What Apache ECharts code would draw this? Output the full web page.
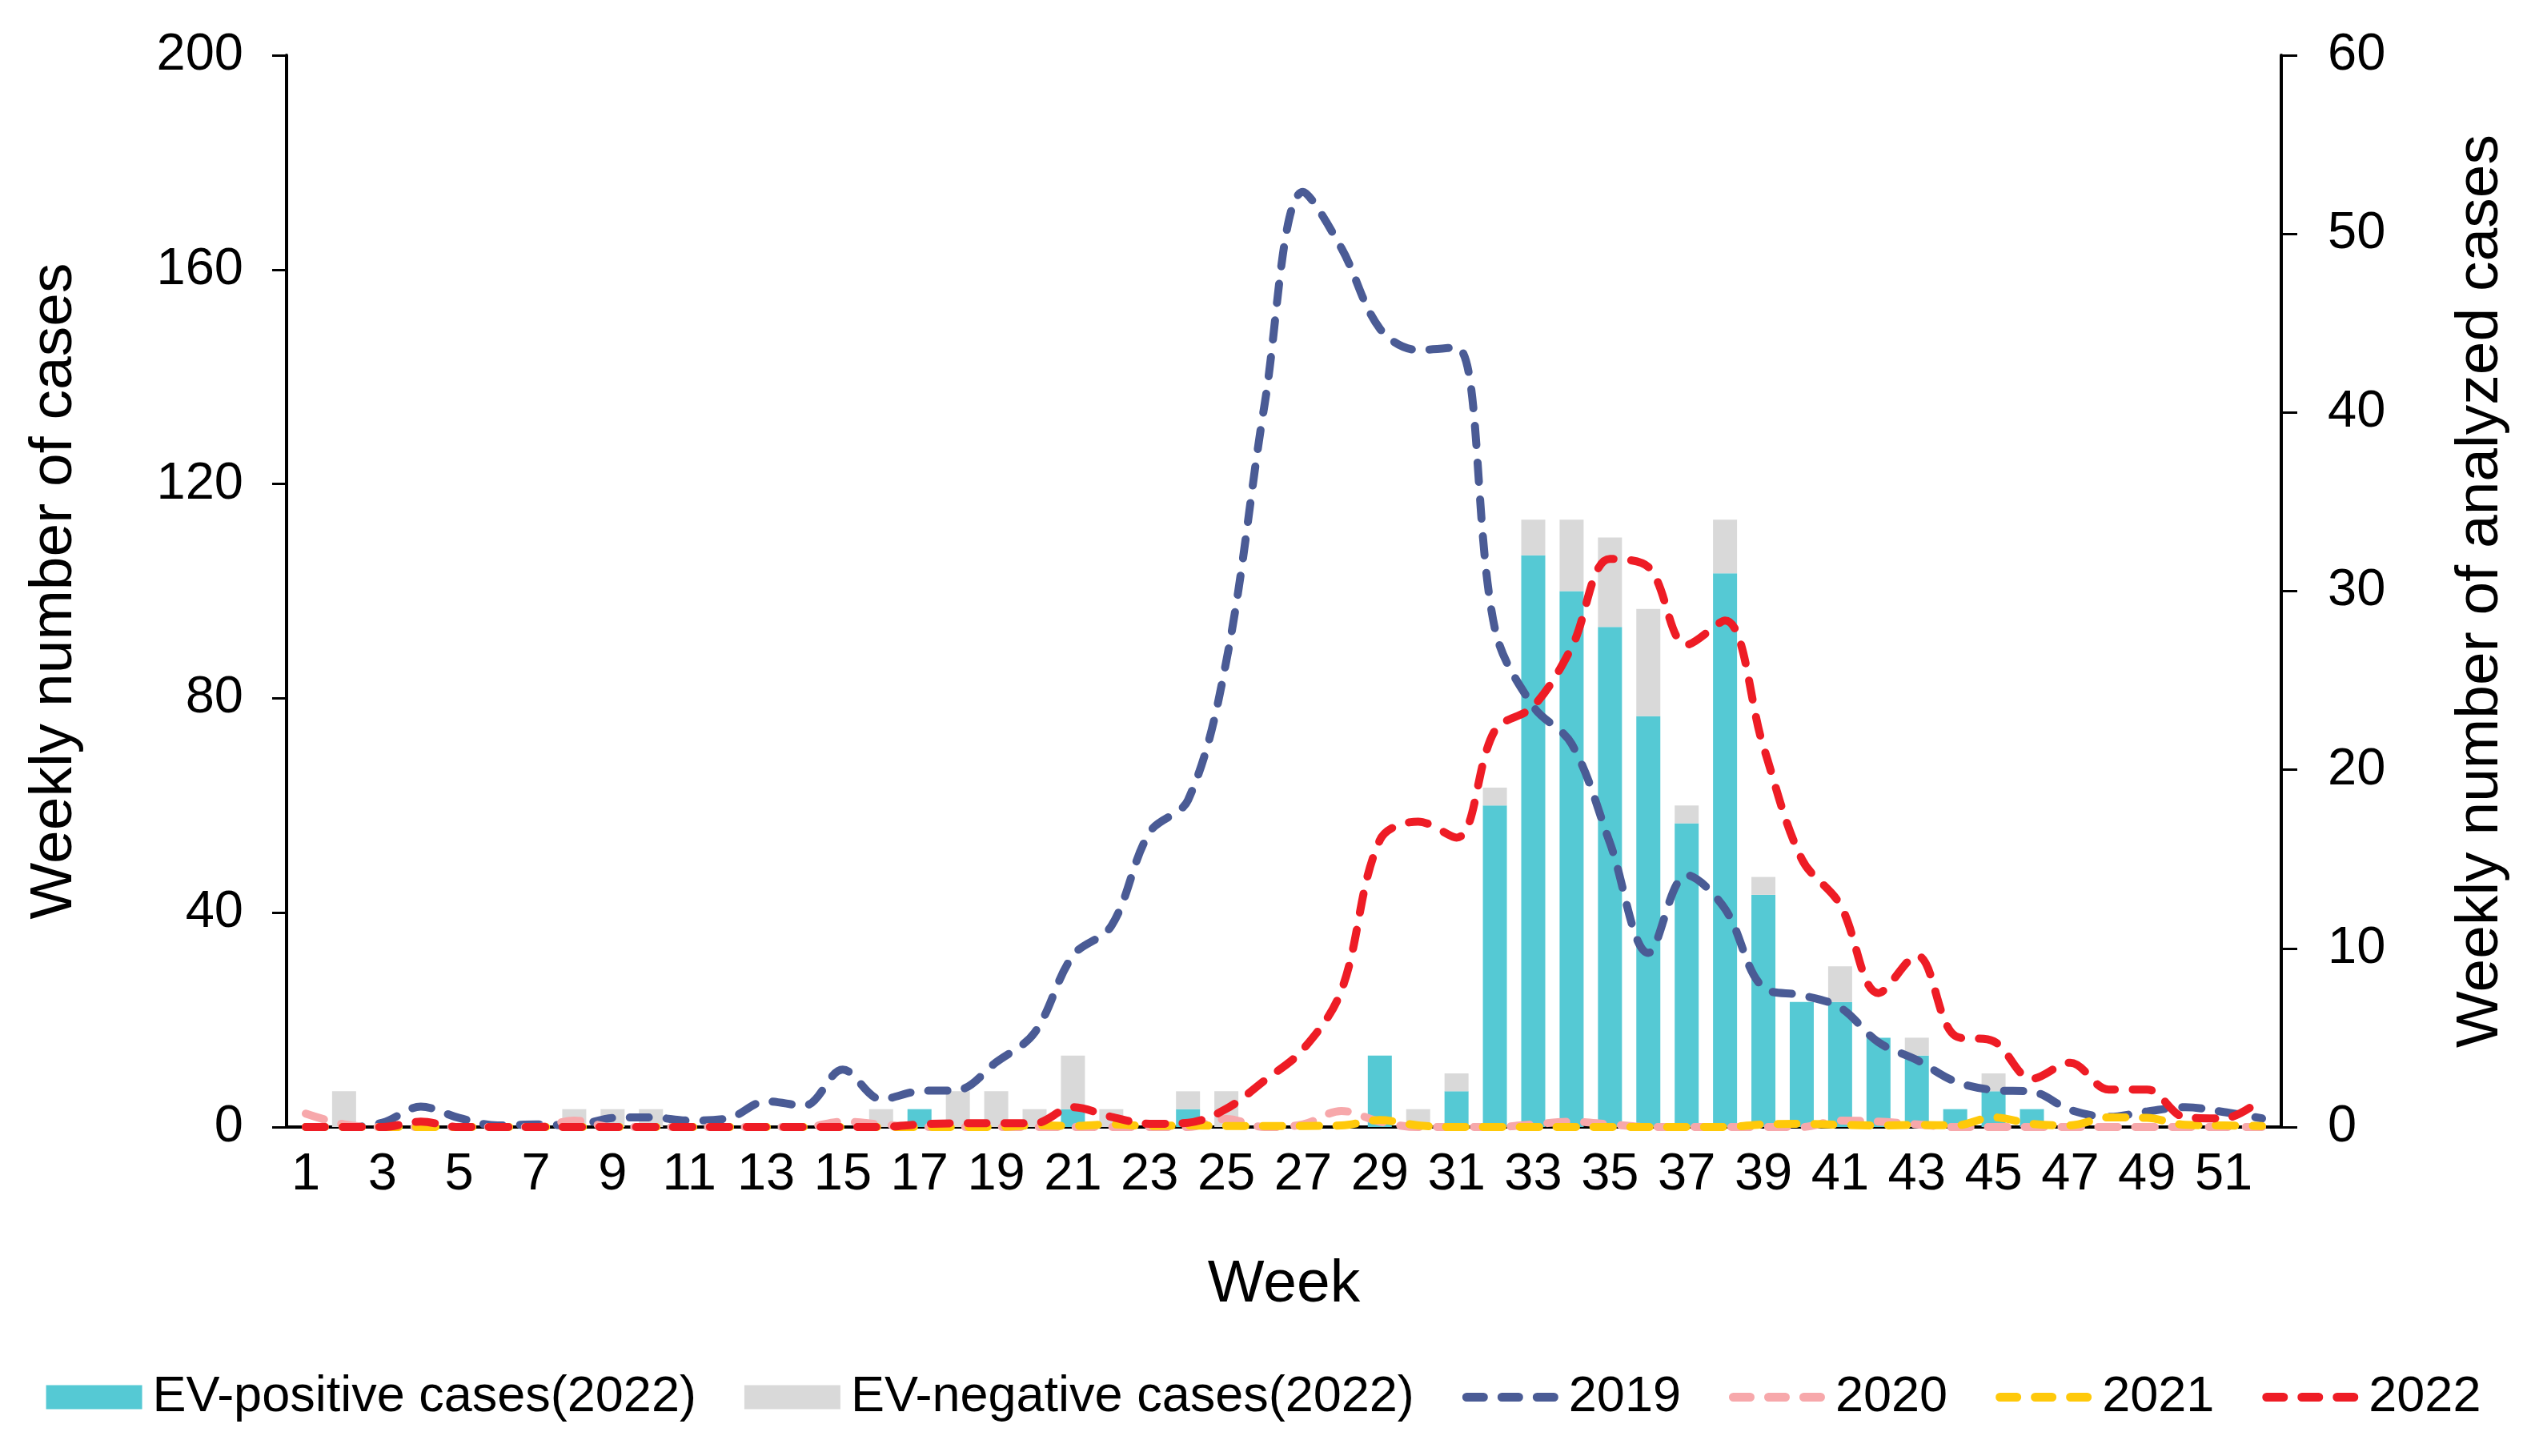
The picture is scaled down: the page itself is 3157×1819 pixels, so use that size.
<!DOCTYPE html>
<html><head><meta charset="utf-8">
<script src="https://cdn.jsdelivr.net/npm/echarts/dist/echarts.min.js"></script>
<style>html,body{margin:0;padding:0;background:#fff}#c{width:3157px;height:1819px}</style>
</head><body><div id="c"></div>
<script>
const weeks = ['1','2','3','4','5','6','7','8','9','10','11','12','13','14','15','16','17','18','19','20','21','22','23','24','25','26','27','28','29','30','31','32','33','34','35','36','37','38','39','40','41','42','43','44','45','46','47','48','49','50','51','52'];
// right axis: weekly number of analyzed cases (2022)
const evPositive = [0,0,0,0,0,0,0,0,0,0,0,0,0,0,0,0,1,0,0,0,1,0,0,1,0,0,0,0,4,0,2,18,32,30,28,23,17,31,13,7,7,5,4,1,2,1,0,0,0,0,0,0];
const evNegative = [0,2,0,0,0,0,0,1,1,1,0,0,0,0,0,1,0,2,2,1,3,1,0,1,2,0,0,0,0,1,1,1,2,4,5,6,1,3,1,0,2,0,1,0,1,0,0,0,0,0,0,0];
// left axis: weekly number of cases
const cases2019 = [0,0,0.8,3.8,1.7,0.3,0.5,0.3,1.7,1.8,1.2,1.6,4.8,4.0,10.7,5.2,6.7,6.9,12.1,17.6,32,37.5,55,61,87,135,174.5,164,149,145,145.5,93,78.5,71.5,53,32.5,47,40.7,26,24.6,22.3,15.8,12.5,8.5,6.9,6.6,3.2,1.9,2.9,3.7,2.8,1.6];
const cases2020 = [2.5,0.5,0,0,0,0,0,1.2,0,0,0,0,0,0,1,0.5,0,0,0,0,0,0,0,0,1.5,0,0.5,3,1,0,0,0,0.5,1,0.5,0,0,0,0,0,1.2,1,0.5,0,0,0,0,0,0,0,0,0];
const cases2021 = [0,0,0,0,0,0,0,0,0,0,0,0,0,0,0,0,0,0,0,0.3,0.2,0.5,0.2,0.3,0.2,0.2,0.2,0.3,1.3,0.3,0,0,0,0,0,0,0,0,0.5,0.6,0.4,0.3,0.4,0.3,1.8,0.6,0.3,1.8,1.7,0.4,0.3,0.2];
const cases2022 = [0,0,0,1,0,0,0,0,0,0,0,0,0,0,0,0,0.5,0.7,0.7,0.7,3.7,1.9,0.6,0.8,3.4,8.7,14.5,25.5,53.5,57,54,74,78.5,89.5,106,104.5,90,94.5,71,50,41.5,25,32,17,16,9,12,7,7,1.8,1.6,5.2];
const leftTicks = {min:0, max:200, interval:40};
const rightTicks = {min:0, max:60, interval:10};

const FONT = '"Liberation Sans", Arial, sans-serif';
const DASH_ICON = 'path://M0,0Z M120,30Z ' +
  'M5.5,9.5L26.5,9.5A5.5,5.5 0 0 1 26.5,20.5L5.5,20.5A5.5,5.5 0 0 1 5.5,9.5Z ' +
  'M49.5,9.5L70.5,9.5A5.5,5.5 0 0 1 70.5,20.5L49.5,20.5A5.5,5.5 0 0 1 49.5,9.5Z ' +
  'M93.5,9.5L114.5,9.5A5.5,5.5 0 0 1 114.5,20.5L93.5,20.5A5.5,5.5 0 0 1 93.5,9.5Z';
const chart = echarts.init(document.getElementById('c'), null, {renderer:'canvas'});
function lineSeries(name, data, color){
  return {name, type:'line', data, yAxisIndex:0, smooth:0.35, symbol:'none',
    lineStyle:{color, width:10, type:[24,22], cap:'round', join:'round'},
    itemStyle:{color}, z:3};
}
chart.setOption({
  animation:false,
  backgroundColor:'#fff',
  textStyle:{fontFamily:FONT, color:'#000'},
  grid:{left:358, right:307, top:69, bottom:411, containLabel:false},
  legend:{
    left:'center', top:1714, padding:0, itemGap:60, itemWidth:120, itemHeight:30,
    textStyle:{fontFamily:FONT, fontSize:63, color:'#000', padding:[0,0,0,8]},
    data:[
      {name:'EV-positive cases(2022)', icon:'rect'},
      {name:'EV-negative cases(2022)', icon:'rect'},
      {name:'2019', icon:DASH_ICON},{name:'2020', icon:DASH_ICON},
      {name:'2021', icon:DASH_ICON},{name:'2022', icon:DASH_ICON}
    ]
  },
  xAxis:{
    type:'category', data:weeks, boundaryGap:true,
    name:'Week', nameLocation:'middle', nameGap:160,
    nameTextStyle:{fontFamily:FONT, fontSize:75, color:'#000'},
    axisLine:{lineStyle:{color:'#000', width:4}},
    axisTick:{show:false},
    axisLabel:{interval:1, fontFamily:FONT, fontSize:65, color:'#000', margin:28}
  },
  yAxis:[
    {type:'value', position:'left', min:leftTicks.min, max:leftTicks.max, interval:leftTicks.interval,
     name:'Weekly number of cases', nameLocation:'middle', nameGap:252,
     nameTextStyle:{fontFamily:FONT, fontSize:75, color:'#000'},
     axisLine:{show:true, lineStyle:{color:'#000', width:4}},
     axisTick:{show:true, length:18, lineStyle:{color:'#000', width:3}},
     axisLabel:{fontFamily:FONT, fontSize:65, color:'#000', margin:54},
     splitLine:{show:false}},
    {type:'value', position:'right', min:rightTicks.min, max:rightTicks.max, interval:rightTicks.interval,
     name:'Weekly number of analyzed cases', nameLocation:'middle', nameGap:212,
     nameTextStyle:{fontFamily:FONT, fontSize:75, color:'#000'},
     axisLine:{show:true, lineStyle:{color:'#000', width:4}},
     axisTick:{show:true, length:20, lineStyle:{color:'#000', width:3}},
     axisLabel:{fontFamily:FONT, fontSize:65, color:'#000', margin:58},
     splitLine:{show:false}}
  ],
  series:[
    {name:'EV-positive cases(2022)', type:'bar', stack:'ev', yAxisIndex:1, data:evPositive, barWidth:30,
     itemStyle:{color:'#55C9D4'}, z:2},
    {name:'EV-negative cases(2022)', type:'bar', stack:'ev', yAxisIndex:1, data:evNegative, barWidth:30,
     itemStyle:{color:'#D9D9D9'}, z:2},
    lineSeries('2019', cases2019, '#4A5B95'),
    lineSeries('2020', cases2020, '#F7A8AB'),
    lineSeries('2021', cases2021, '#FFC90A'),
    lineSeries('2022', cases2022, '#EE1C25')
  ]
});
</script></body></html>
